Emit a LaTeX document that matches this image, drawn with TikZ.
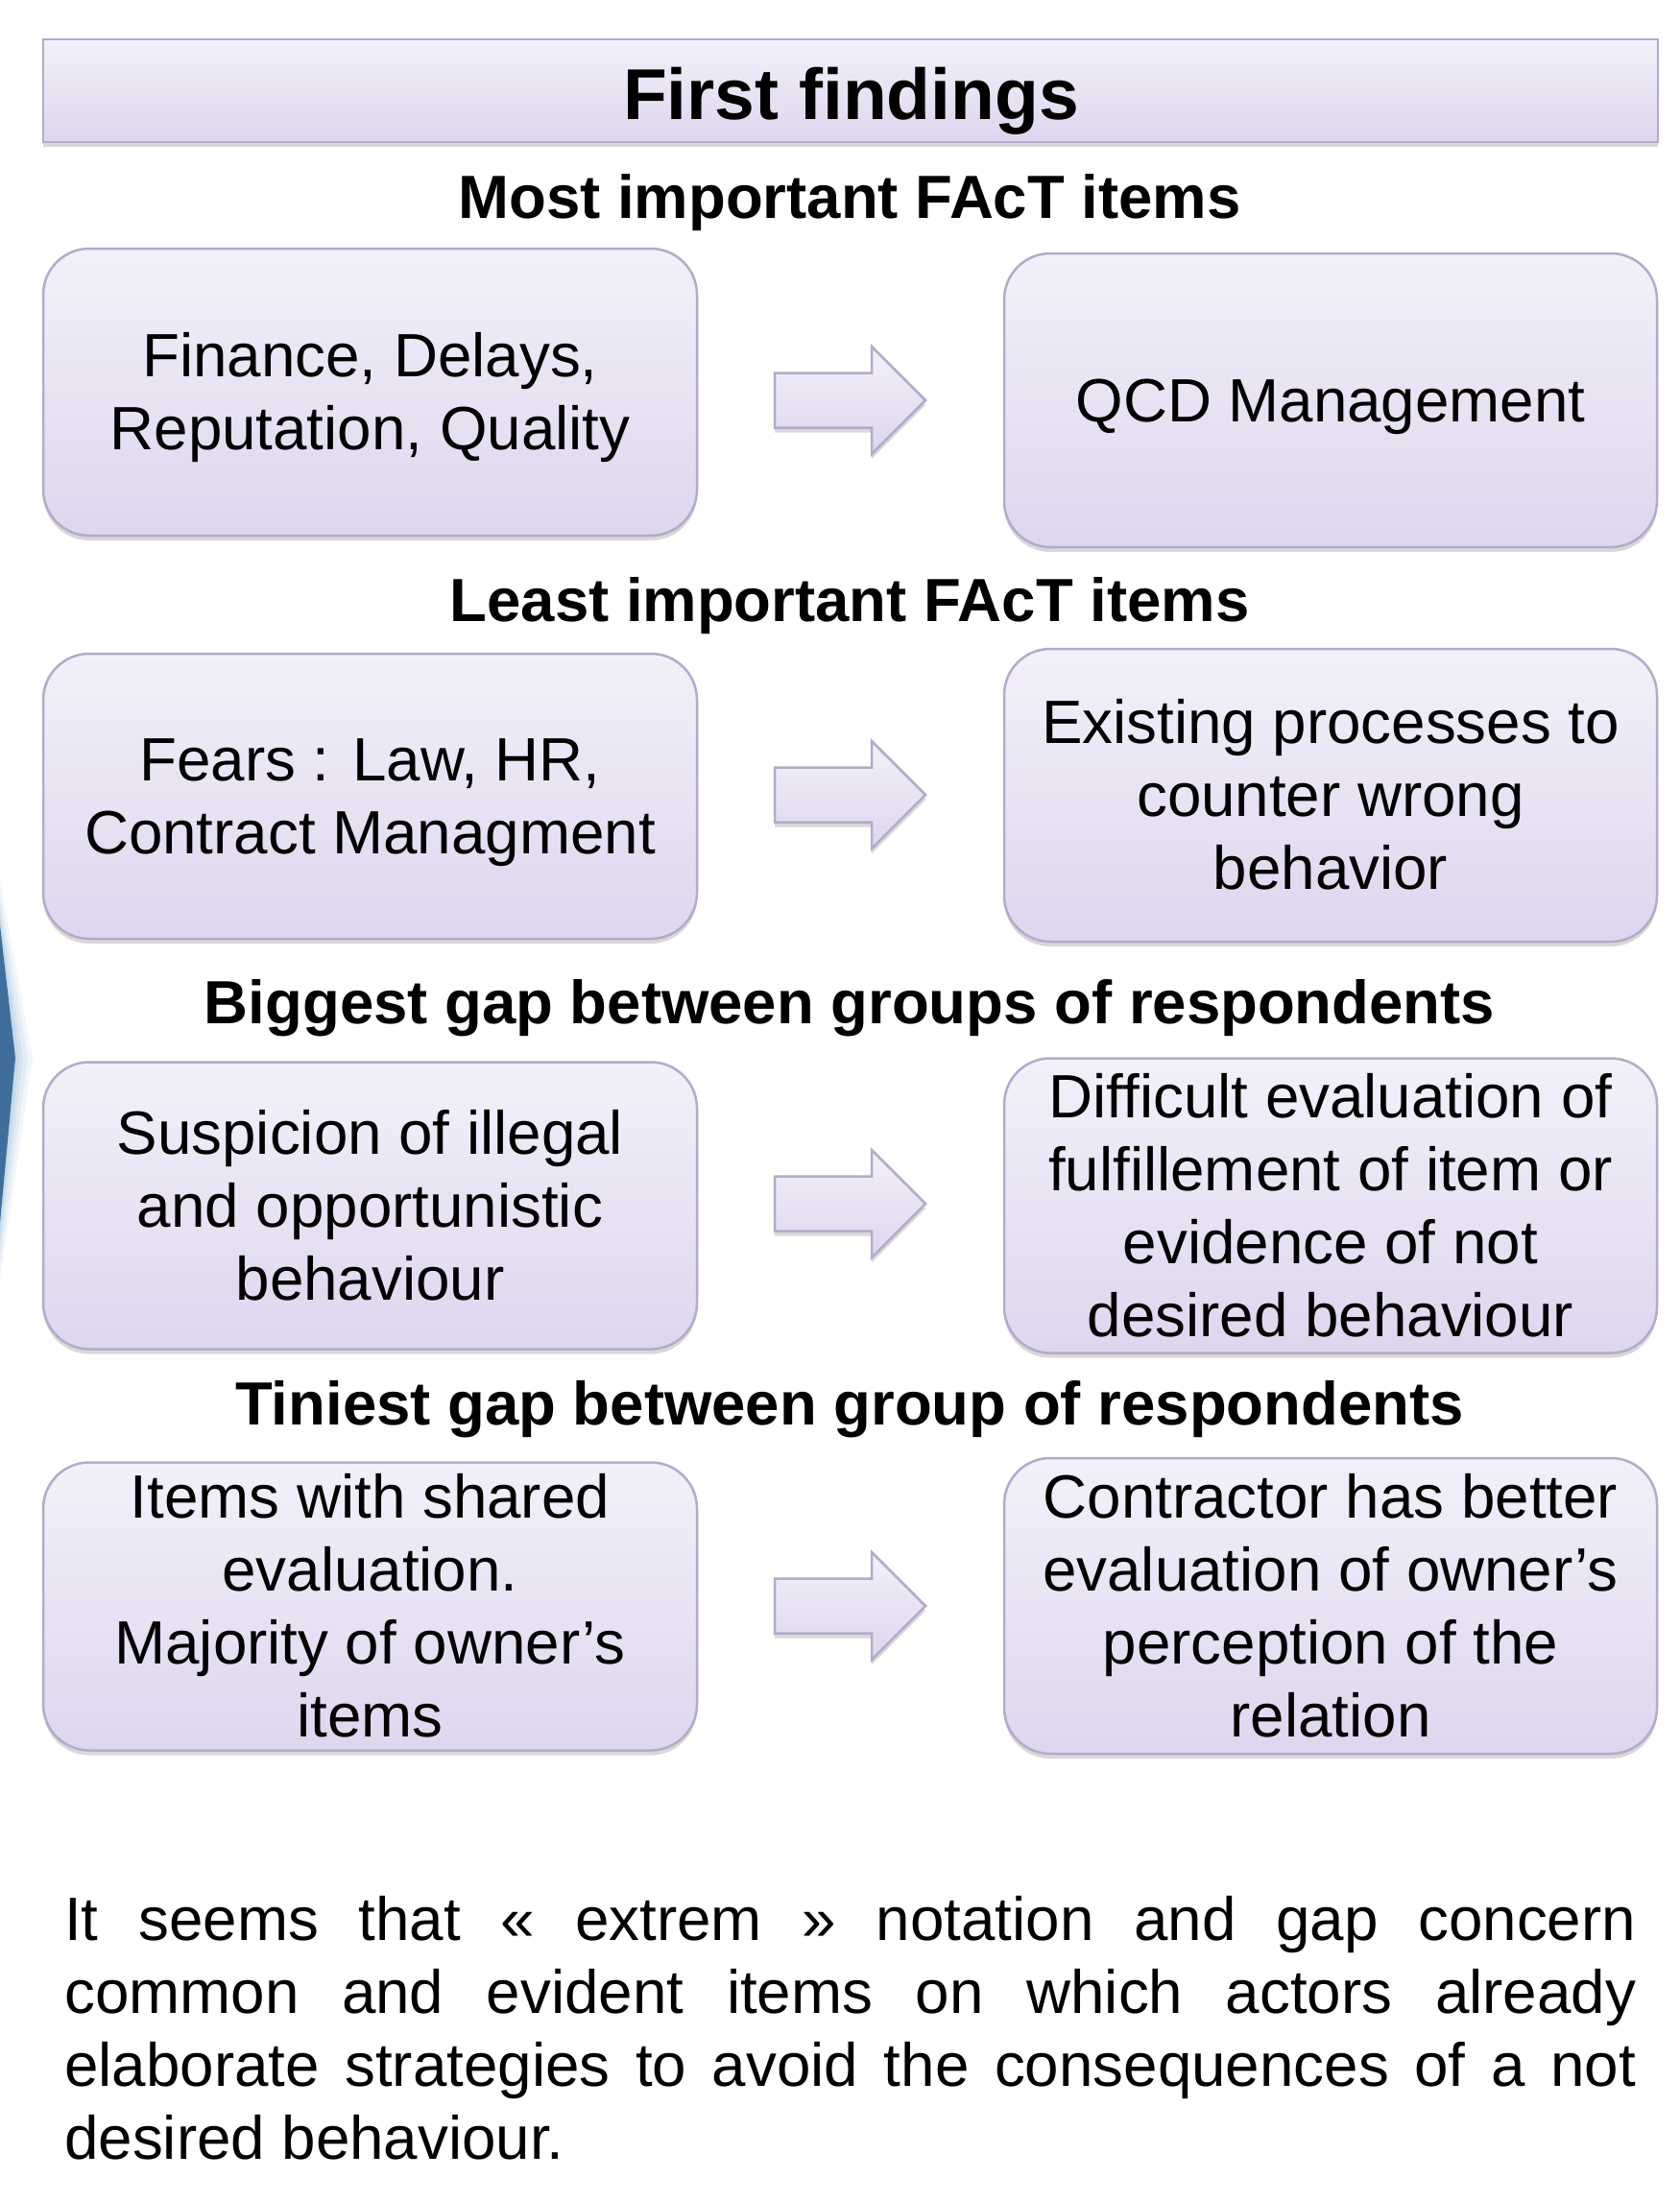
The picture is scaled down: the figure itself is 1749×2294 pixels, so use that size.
\documentclass[tikz,border=0pt]{standalone}
\usepackage{fontspec}
\setmainfont{Liberation Sans}
\usetikzlibrary{shadows}
\definecolor{boxtop}{HTML}{F3F0FA}
\definecolor{boxbot}{HTML}{DED6EE}
\definecolor{boxedge}{HTML}{B3ABC9}
\definecolor{chev}{HTML}{3F6E9C}
\definecolor{glow}{HTML}{B9CFE3}
\newcommand\topstrut{\rule{0pt}{58pt}}
\newcommand\botstrut{\rule[-13.5pt]{0pt}{0pt}}
\tikzset{
  softshadow/.style={drop shadow={shadow xshift=0pt, shadow yshift=-5pt, opacity=0.22, fill=black!70}},
  panel/.style={draw=boxedge, line width=2.5pt, top color=boxtop, bottom color=boxbot, softshadow},
  findbox/.style={panel, rounded corners=48pt, inner sep=0pt, align=center,
    minimum width=681pt, font={\fontsize{63.7pt}{76pt}\selectfont}},
  titlebar/.style={panel, inner sep=0pt, minimum width=1682pt, minimum height=107pt},
  titletext/.style={inner sep=0pt, font={\fontsize{75pt}{90pt}\selectfont\bfseries}},
  headtext/.style={inner sep=0pt, anchor=base, font={\fontsize{63.5pt}{76pt}\selectfont\bfseries}},
  blockarrow/.style={draw=boxedge, line width=2.5pt, top color=boxtop, bottom color=boxbot, softshadow, line join=miter},
  bodytext/.style={inner sep=0pt, anchor=base west, text width=1637pt, align=justify,
    font={\fontsize{63.7pt}{76.3pt}\selectfont}}
}
\begin{document}
\begin{tikzpicture}[x=1pt,y=-1pt]
\useasboundingbox (0,0) rectangle (1749,2294);

% blue chevron at the left edge, with a soft glow
\fill[glow, opacity=0.18] (-16,830) -- (34,1102) -- (-16,1440) -- cycle;
\fill[glow, opacity=0.25] (-14,850) -- (29,1102) -- (-14,1420) -- cycle;
\fill[glow, opacity=0.35] (-12,866) -- (24,1102) -- (-12,1400) -- cycle;
\fill[glow, opacity=0.5] (-10,880) -- (20,1102) -- (-10,1380) -- cycle;
\fill[chev] (-8,895) -- (16,1102) -- (-8,1360) -- cycle;

% title bar
\node[titlebar] (bar) at (886,94.5) {};
\node[titletext, anchor=base] (title) at (886.5,124) {First findings};

% headings
\node[headtext] (h1) at (885,227) {Most important FAcT items};
\node[headtext] (h2) at (885,647) {Least important FAcT items};
\node[headtext] (h3) at (885,1066) {Biggest gap between groups of respondents};
\node[headtext] (h4) at (885,1484) {Tiniest gap between group of respondents};

% row 1
\node[findbox, minimum height=299pt] (l1) at (385.5,408.5) {\topstrut Finance, Delays,\\Reputation, Quality\botstrut};
\node[findbox, minimum width=680pt, minimum height=306pt] (r1) at (1386,417) {\topstrut QCD Management\botstrut};
% row 2
\node[findbox, minimum height=297pt] (l2) at (385.5,829.5) {\topstrut Fears : Law, HR,\\Contract Managment\botstrut};
\node[findbox, minimum width=680pt, minimum height=305pt] (r2) at (1386,828.5) {\topstrut Existing processes to\\counter wrong\\behavior\botstrut};
% row 3
\node[findbox, minimum height=299pt] (l3) at (385.5,1256) {\topstrut Suspicion of illegal\\and opportunistic\\behaviour\botstrut};
\node[findbox, minimum width=680pt, minimum height=307pt] (r3) at (1386,1256) {\topstrut Difficult evaluation of\\fulfillement of item or\\evidence of not\\desired behaviour\botstrut};
% row 4
\node[findbox, minimum height=300pt] (l4) at (385.5,1673.5) {\topstrut Items with shared\\evaluation.\\Majority of owner’s\\items\botstrut};
\node[findbox, minimum width=680pt, minimum height=308pt] (r4) at (1386,1673) {\topstrut Contractor has better\\evaluation of owner’s\\perception of the\\relation\botstrut};

% block arrows
\foreach \cy in {417,828,1254,1673}{
  \draw[blockarrow] (807,\cy) ++(0,-28.5) -- ++(101,0) -- ++(0,-27.5) -- ++(56,56)
     -- ++(-56,56) -- ++(0,-27.5) -- ++(-101,0) -- cycle;
}

% conclusion
\node[bodytext] (concl) at (67,2021) {\hyphenpenalty=10000\noindent It seems that « extrem » notation and gap concern\linebreak common and evident items on which actors already\linebreak elaborate strategies to avoid the consequences of a not\linebreak desired behaviour.};
\end{tikzpicture}
\end{document}
